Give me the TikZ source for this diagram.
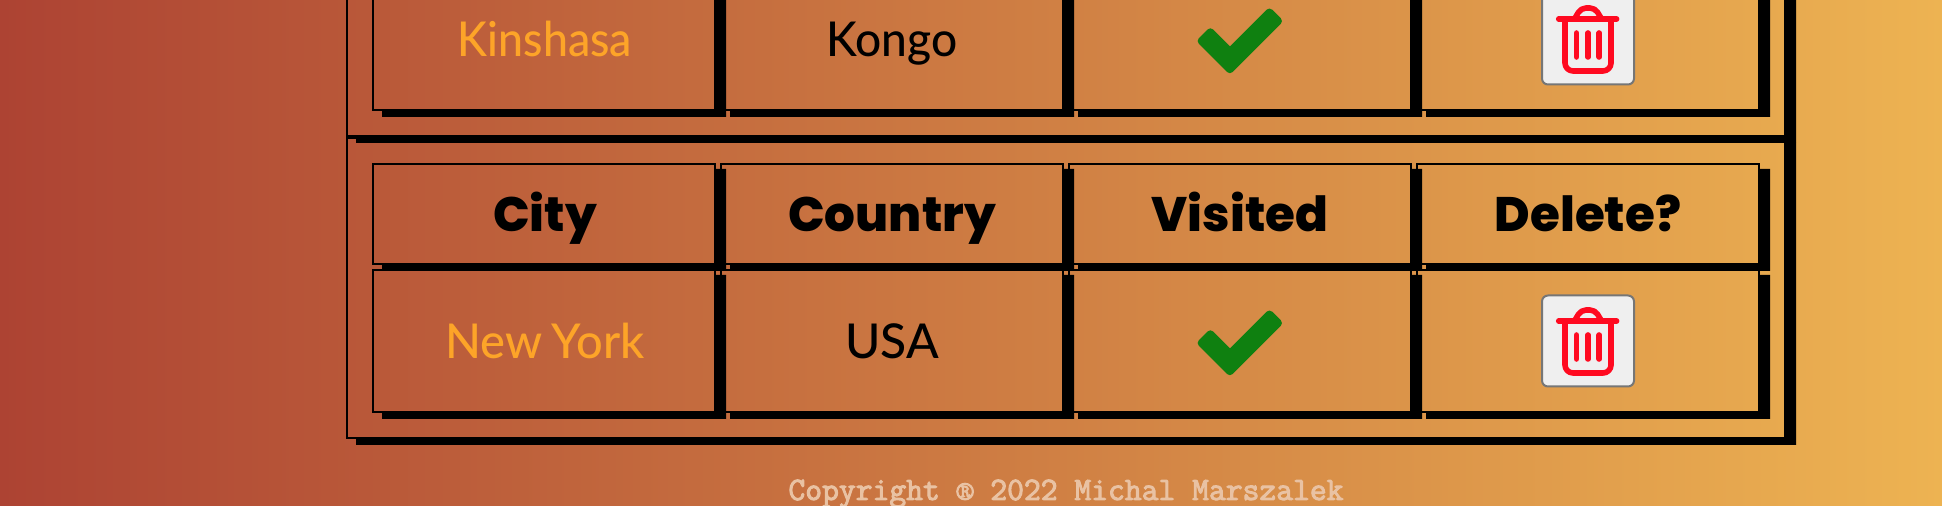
\documentclass[tikz,border=0pt]{standalone}
\usepackage{fontspec}
\setmainfont{Lato Medium}
\newfontfamily\headfont{Poppins ExtraBold}
\newfontfamily\footfont{Latin Modern Mono}[FakeBold=3]
\usetikzlibrary{calc}
\definecolor{bgA}{HTML}{AD4333}
\definecolor{bgB}{HTML}{EDB352}
\definecolor{cityc}{HTML}{FDA428}
\definecolor{checkc}{HTML}{0F8010}
\definecolor{trashc}{HTML}{FF0A20}
\definecolor{btnfill}{HTML}{EFEFEF}
\definecolor{btnline}{HTML}{767676}
\definecolor{footc}{HTML}{E9C2A3}
\tikzset{
  x=0.5pt,y=-0.5pt,
  thinbox/.style={draw=black,line width=1pt,fill=none},
  shadowfill/.style={fill=black,draw=none},
  headtext/.style={anchor=base,inner sep=0pt,font=\headfont\fontsize{24.2}{28}\selectfont,text=black},
  citytext/.style={anchor=base,inner sep=0pt,font=\fontsize{24}{28}\selectfont,text=cityc},
  countrytext/.style={anchor=base,inner sep=0pt,font=\fontsize{24}{28}\selectfont,text=black},
  footertext/.style={anchor=base,inner sep=0pt,font=\footfont\fontsize{16.33}{18}\selectfont,text=footc},
  trashline/.style={draw=trashc,line width=2.8pt,line cap=round,line join=round,fill=none},
  buttonbox/.style={draw=btnline,line width=1pt,fill=btnfill,rounded corners=3pt},
}
% box with a shadow offset (10,6): x1 ytop x2 ybottom
\newcommand{\shadowbox}[4]{%
  \fill[shadowfill] (#3,#2+6) -- (#3+10,#2+6) -- (#3+10,#4+6) -- (#1+10,#4+6) -- (#1+10,#4) -- (#3,#4) -- cycle;
  \draw[thinbox] (#1+1,#2+1) rectangle (#3-1,#4-1);
}
% delete button: vertical offset
\newcommand{\trashbutton}[2]{%
  \begin{scope}[yshift=#2*0.5pt]
    \node[buttonbox,minimum width=46pt,minimum height=45.5pt,inner sep=0pt] (#1) at (1588,341) {};
    \draw[trashline] (1558.7,321) -- (1616.6,321);
    \draw[trashline,rounded corners=4pt] (1565,321) -- (1565,373) -- (1611,373) -- (1611,321);
    \draw[trashline,rounded corners=2.5pt] (1575,320) -- (1581,310) -- (1595,310) -- (1601,320);
    \draw[trashline] (1576.5,335) -- (1576.5,359);
    \draw[trashline] (1588,335) -- (1588,359);
    \draw[trashline] (1599.2,335) -- (1599.2,359);
  \end{scope}
}
% check mark: vertical offset
\newcommand{\checkicon}[1]{%
  \begin{scope}[yshift=#1*0.5pt]
    \fill[checkc] (1230,348.3) [rounded corners=2pt] -- (1269.4,308.9) -- (1283.6,323.1) -- (1229.85,376.85) -- (1196,343) -- (1210.35,328.65) [sharp corners] -- cycle;
  \end{scope}
}
\begin{document}
\begin{tikzpicture}
\useasboundingbox (0,0) rectangle (1942,506);
% background
\shade[left color=bgA,right color=bgB] (0,0) rectangle (1942,506);
% outer tables
\shadowbox{346}{-400}{1786}{137}
\shadowbox{346}{137}{1786}{439}
% first table, last row
\shadowbox{372}{-33}{716}{111}
\shadowbox{720}{-33}{1064}{111}
\shadowbox{1068}{-33}{1412}{111}
\shadowbox{1416}{-33}{1760}{111}
% second table, header row
\shadowbox{372}{163}{716}{265}
\shadowbox{720}{163}{1064}{265}
\shadowbox{1068}{163}{1412}{265}
\shadowbox{1416}{163}{1760}{265}
% second table, data row
\shadowbox{372}{269}{716}{413}
\shadowbox{720}{269}{1064}{413}
\shadowbox{1068}{269}{1412}{413}
\shadowbox{1416}{269}{1760}{413}
% texts
\node[citytext] (kinshasa) at (545,57) {\scalebox{0.93}[1]{Kinshasa}};
\node[countrytext] (kongo) at (892,57) {\scalebox{0.96}[1]{Kongo}};
\node[headtext] (city) at (545,232) {City};
\node[headtext] (country) at (892,232) {Country};
\node[headtext] (visited) at (1240,232) {Visited};
\node[headtext] (delete) at (1588,232) {Delete?};
\node[citytext] (newyork) at (545,359) {\scalebox{0.98}[1]{\spaceskip=0.2em New York}};
\node[countrytext] (usa) at (892,359) {USA};
% icons
\checkicon{302}
\checkicon{0}
\trashbutton{btnA}{302}
\trashbutton{btnB}{0}
% footer
\node[footertext] (footer) at (1066,500) {Copyright ® 2022 Michal Marszalek};
\end{tikzpicture}
\end{document}
